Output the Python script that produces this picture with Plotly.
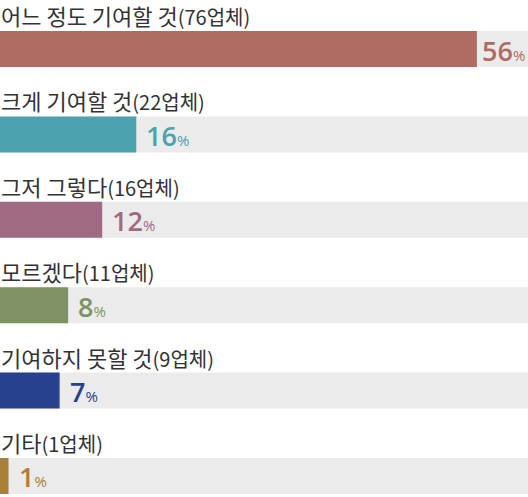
import plotly.graph_objects as go

# survey answers, share of companies (%)
labels = ["어느 정도 기여할 것", "크게 기여할 것", "그저 그렇다", "모르겠다", "기여하지 못할 것", "기타"]
counts = [76, 22, 16, 11, 9, 1]
pcts = [56, 16, 12, 8, 7, 1]
colors = ["#b06b63", "#4ca2ae", "#a06a82", "#7f9266", "#27418f", "#a8803a"]

x_max = 62
rows = list(range(len(labels)))

fig = go.Figure()

# grey track behind each bar
fig.add_trace(go.Bar(x=[x_max] * len(rows), y=rows, orientation="h", width=0.4215,
                     marker=dict(color="#ebebeb", line=dict(width=0)), hoverinfo="skip"))
fig.add_trace(go.Bar(x=pcts, y=rows, orientation="h", width=0.4215,
                     marker=dict(color=colors, line=dict(width=0)), hoverinfo="skip"))

for i, (lab, n, p, c) in enumerate(zip(labels, counts, pcts, colors)):
    # category label above the bar
    fig.add_annotation(x=0, y=i, xref="x", yref="y", xanchor="left", yanchor="middle",
                       yshift=34, xshift=0, borderpad=0, showarrow=False,
                       text=f"{lab}<span style='font-size:20px'>({n}업체)</span>",
                       font=dict(family="Noto Sans CJK KR", size=22, color="#333333"))
    # value next to the bar
    fig.add_annotation(x=p, y=i, xref="x", yref="y", xanchor="left", yanchor="middle",
                       xshift=3 if p == max(pcts) else 8, yshift=-1, showarrow=False,
                       text=f"{p}<span style='font-size:15px;font-weight:normal'>%</span>",
                       font=dict(family="Open Sans", size=27, color=c, weight=600))

fig.update_layout(
    width=528, height=497,
    margin=dict(l=0, r=0, t=0, b=0),
    paper_bgcolor="white", plot_bgcolor="white",
    barmode="overlay", showlegend=False,
    xaxis=dict(range=[0, x_max], visible=False, fixedrange=True),
    yaxis=dict(range=[5.246, -0.574], visible=False, fixedrange=True),
)

fig.write_html("out.html", config={"displayModeBar": False},
               post_script="document.body.style.margin='0';")
